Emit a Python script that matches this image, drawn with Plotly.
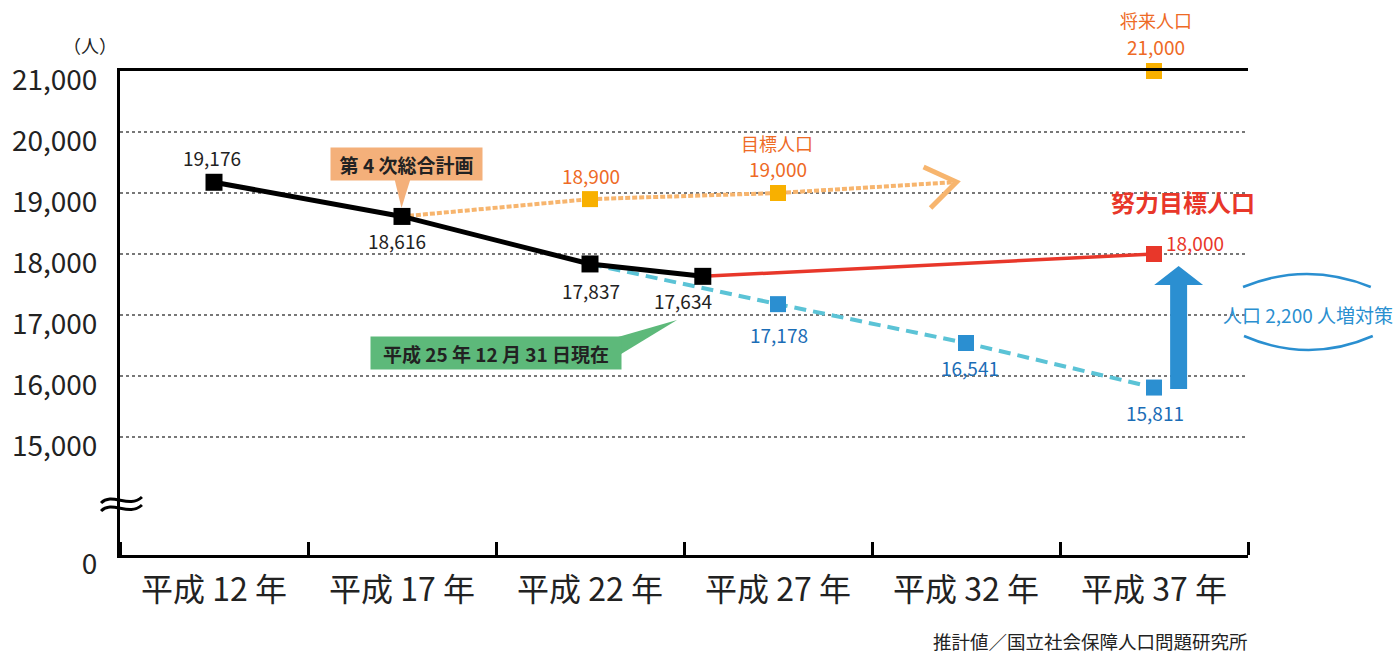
import plotly.graph_objects as go

# ---------------- data ----------------
xtick_years = [12, 17, 22, 27, 32, 37]
xtick_text = ["平成 12 年", "平成 17 年", "平成 22 年", "平成 27 年", "平成 32 年", "平成 37 年"]
xbound_years = [9.5, 14.5, 19.5, 24.5, 29.5, 34.5, 39.5]

actual_x = [12, 17, 22, 25]
actual_y = [19176, 18616, 17837, 17634]

proj_line_x = [22, 27, 32, 37]
proj_line_y = [17837, 17178, 16541, 15811]
proj_x = [27, 32, 37]
proj_y = [17178, 16541, 15811]

target_line_x = [17, 22, 27, 31.75]
target_line_y = [18616, 18900, 19000, 19180]
target_x = [22, 27]
target_y = [18900, 19000]

effort_x = [25, 37]
effort_y = [17634, 18000]

future_x = [37]
future_y = [21000]

ytick_vals = [13066, 15000, 16000, 17000, 18000, 19000, 20000, 21000]
ytick_text = ["0", "15,000", "16,000", "17,000", "18,000", "19,000", "20,000", "21,000"]

# ---------------- layout constants ----------------
W, H = 1398, 654
L, R, T, B = 118, 1248, 71, 555
FONT = "Noto Sans CJK JP, Noto Sans, sans-serif"

BLACK = "#000000"
ORANGE_LINE = "#F7B56E"
ORANGE_MK = "#F8B000"
ORANGE_TXT = "#EE6A25"
CYAN = "#5BC3D6"
BLUE_MK = "#2B8FD1"
BLUE_TXT = "#1B6DB6"
RED = "#E8372A"


def px(p):
    return (p - L) / (R - L)


def py(p):
    return (B - p) / (B - T)


fig = go.Figure()

# projection dashed line (cyan)
fig.add_trace(go.Scatter(x=proj_line_x, y=proj_line_y, mode="lines",
                         line=dict(color=CYAN, width=4, dash="12px,7px"),
                         hoverinfo="skip", cliponaxis=False))
# target dashed line (orange)
fig.add_trace(go.Scatter(x=target_line_x, y=target_line_y, mode="lines",
                         line=dict(color=ORANGE_LINE, width=4, dash="5px,2px"),
                         hoverinfo="skip", cliponaxis=False))
# effort line (red)
fig.add_trace(go.Scatter(x=effort_x, y=effort_y, mode="lines",
                         line=dict(color=RED, width=3.5),
                         hoverinfo="skip", cliponaxis=False))
# actual line (black)
fig.add_trace(go.Scatter(x=actual_x, y=actual_y, mode="lines+markers",
                         line=dict(color=BLACK, width=5),
                         marker=dict(symbol="square", size=17, color=BLACK),
                         cliponaxis=False))
# markers
fig.add_trace(go.Scatter(x=proj_x, y=proj_y, mode="markers",
                         marker=dict(symbol="square", size=16, color=BLUE_MK), cliponaxis=False))
fig.add_trace(go.Scatter(x=target_x, y=target_y, mode="markers",
                         marker=dict(symbol="square", size=16, color=ORANGE_MK), cliponaxis=False))
fig.add_trace(go.Scatter(x=future_x, y=future_y, mode="markers",
                         marker=dict(symbol="square", size=16, color=ORANGE_MK), cliponaxis=False))
fig.add_trace(go.Scatter(x=effort_x[-1:], y=effort_y[-1:], mode="markers",
                         marker=dict(symbol="square", size=16, color=RED), cliponaxis=False))

annotations = []


def lab(x, y, text, color, size=19, xs=0, ys=0, bold=False):
    t = f"<b>{text}</b>" if bold else text
    annotations.append(dict(x=x, y=y, xref="x", yref="y", text=t, showarrow=False,
                            xanchor="center", yanchor="middle", xshift=xs, yshift=ys,
                            font=dict(size=size, color=color, family=FONT)))


def fmt(v):
    return f"{v:,}"


# actual labels
act_shift = [(-2, 25), (-5, -24), (1, -27), (-20, -24)]
for xv, yv, (xs, ys) in zip(actual_x, actual_y, act_shift):
    lab(xv, yv, fmt(yv), "#222222", xs=xs, ys=ys)

# projection labels
proj_shift = [(1, -30), (4, -24), (1, -25)]
for xv, yv, (xs, ys) in zip(proj_x, proj_y, proj_shift):
    lab(xv, yv, fmt(yv), BLUE_TXT, xs=xs, ys=ys)

# target labels
lab(target_x[0], target_y[0], fmt(target_y[0]), ORANGE_TXT, xs=1, ys=24)
lab(target_x[1], target_y[1], fmt(target_y[1]), ORANGE_TXT, xs=0, ys=25)
lab(target_x[1], target_y[1], "目標人口", ORANGE_TXT, size=18, xs=-1, ys=50)

# future labels
lab(future_x[0], future_y[0], fmt(future_y[0]), ORANGE_TXT, xs=2, ys=25)
lab(future_x[0], future_y[0], "将来人口", ORANGE_TXT, size=18, xs=2, ys=51)

# effort labels
lab(effort_x[-1], effort_y[-1], fmt(effort_y[-1]), RED, xs=41, ys=12)
lab(effort_x[-1], effort_y[-1], "努力目標人口", RED, size=24, xs=29, ys=53, bold=True)


def pann(text, x, y, size, color, **kw):
    d = dict(x=px(x), y=py(y), xref="paper", yref="paper", text=text, showarrow=False,
             xanchor="center", yanchor="middle",
             font=dict(size=size, color=color, family=FONT))
    d.update(kw)
    annotations.append(d)


# side text
pann("人口 2,200 人増対策", 1308, 314, 19, "#2A8FD0")
# unit
pann("（人）", 88, 45, 18, "#222222")
# source
pann("推計値／国立社会保障人口問題研究所", 1250, 641, 18.5, "#222222", xanchor="right")
# callouts
pann("<b>第 4 次総合計画</b>", 405, 164, 19, "#222222",
     bgcolor="#F4B07A", width=151, height=32, borderpad=0)
pann("<b>平成 25 年 12 月 31 日現在</b>", 495, 353, 19, "#222222",
     bgcolor="#5DB97A", width=250, height=32, borderpad=0)


def path(points, close=True):
    s = "M " + " L ".join(f"{px(a):.5f},{py(b):.5f}" for a, b in points)
    return s + (" Z" if close else "")


shapes = []
# callout tails
shapes.append(dict(type="path", xref="paper", yref="paper", layer="above",
                   path=path([(393, 179), (409, 179), (400, 208)]),
                   fillcolor="#F4B07A", line=dict(width=0)))
shapes.append(dict(type="path", xref="paper", yref="paper", layer="above",
                   path=path([(610, 339), (676, 320), (620, 354)]),
                   fillcolor="#5DB97A", line=dict(width=0)))
# orange open arrow head
shapes.append(dict(type="path", xref="paper", yref="paper", layer="above",
                   path=path([(923, 167), (956, 182), (930, 208)], close=False),
                   line=dict(color=ORANGE_LINE, width=5)))
# blue up arrow
shapes.append(dict(type="path", xref="paper", yref="paper", layer="above",
                   path=path([(1170, 389), (1187, 389), (1187, 285), (1203, 285),
                              (1178.5, 266), (1154, 285), (1170, 285)]),
                   fillcolor=BLUE_MK, line=dict(width=0)))


def qpath(p0, c, p2):
    return (f"M {px(p0[0]):.5f},{py(p0[1]):.5f} Q {px(c[0]):.5f},{py(c[1]):.5f} "
            f"{px(p2[0]):.5f},{py(p2[1]):.5f}")


shapes.append(dict(type="path", xref="paper", yref="paper", layer="above",
                   path=qpath((1243, 287), (1307, 261), (1371, 287)),
                   line=dict(color="#2A8FD0", width=2.5)))
shapes.append(dict(type="path", xref="paper", yref="paper", layer="above",
                   path=qpath((1244, 336), (1309, 364), (1373, 336)),
                   line=dict(color="#2A8FD0", width=2.5)))


def cpath(pts):
    (a, b), (c1x, c1y), (c2x, c2y), (e, f) = pts
    return (f"M {px(a):.5f},{py(b):.5f} C {px(c1x):.5f},{py(c1y):.5f} "
            f"{px(c2x):.5f},{py(c2y):.5f} {px(e):.5f},{py(f):.5f}")


# axis break mark
for off in (0, 8):
    shapes.append(dict(type="path", xref="paper", yref="paper", layer="above",
                       path=cpath([(99, 503 + off), (110, 492 + off), (127, 509 + off), (140, 497 + off)]),
                       line=dict(color=BLACK, width=3)))

fig.update_layout(
    width=W, height=H,
    margin=dict(l=L, r=W - R, t=T, b=H - B),
    paper_bgcolor="white", plot_bgcolor="white",
    showlegend=False,
    font=dict(family=FONT, color="#222222"),
    annotations=annotations,
    shapes=shapes,
    xaxis=dict(range=[9.5, 39.5], tickmode="array", tickvals=xtick_years, ticktext=xtick_text,
               ticks="", showgrid=False, zeroline=False,
               showline=True, linecolor=BLACK, linewidth=3, mirror=True,
               tickfont=dict(size=32, color="#222222", family=FONT),
               ticklabelstandoff=5,
               minor=dict(tickmode="array", tickvals=xbound_years, ticks="inside",
                          ticklen=13, tickwidth=3, tickcolor=BLACK, showgrid=False)),
    yaxis=dict(range=[13066, 21000], tickmode="array", tickvals=ytick_vals, ticktext=ytick_text,
               ticks="", showgrid=True, gridcolor="#777777", gridwidth=2, griddash="dot",
               zeroline=False, showline=True, linecolor=BLACK, linewidth=3,
               tickfont=dict(size=28, color="#222222", family=FONT),
               ticklabelstandoff=14, ticklabelshift=9),
)

fig.write_html("out.html")
